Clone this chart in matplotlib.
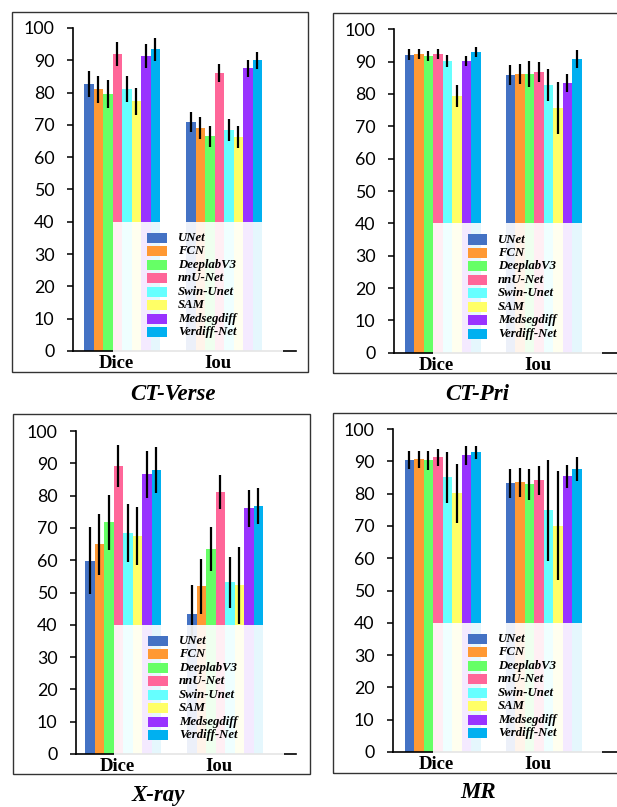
import matplotlib
matplotlib.use('Agg')
import matplotlib.pyplot as plt
from matplotlib.patches import Rectangle
import numpy as np

# ---------------- data ----------------
models = ['UNet', 'FCN', 'DeeplabV3', 'nnU-Net', 'Swin-Unet', 'SAM', 'Medsegdiff', 'Verdiff-Net']
colors = ['#4472C4', '#FF9933', '#66FF66', '#FF6699', '#66FFFF', '#FFFF66', '#9933FF', '#00B0F0']
metrics = ['Dice', 'Iou']
yticks = list(range(0, 101, 10))

ct_verse_dice = [82.6, 81.0, 79.5, 91.9, 81.0, 77.3, 91.2, 93.4]
ct_verse_dice_err = [4.0, 4.1, 4.4, 3.8, 4.0, 4.1, 3.7, 3.6]
ct_verse_iou = [70.8, 69.1, 66.5, 86.0, 68.4, 66.2, 87.5, 90.0]
ct_verse_iou_err = [3.1, 3.5, 3.3, 2.8, 3.4, 3.4, 2.7, 2.7]

ct_pri_dice = [92.1, 92.4, 91.8, 92.4, 90.2, 79.4, 90.2, 93.0]
ct_pri_dice_err = [1.7, 1.6, 1.6, 1.5, 2.0, 3.3, 1.5, 1.5]
ct_pri_iou = [85.9, 86.2, 86.2, 86.8, 82.8, 75.7, 83.4, 90.8]
ct_pri_iou_err = [3.1, 3.0, 4.1, 3.0, 5.0, 8.0, 2.8, 2.7]

xray_dice = [59.9, 64.9, 71.7, 89.1, 68.3, 67.5, 86.6, 87.9]
xray_dice_err = [10.3, 9.4, 8.5, 6.5, 9.0, 9.0, 7.2, 7.0]
xray_iou = [43.3, 51.9, 63.4, 81.1, 53.1, 52.2, 76.1, 76.7]
xray_iou_err = [9.1, 8.5, 6.8, 5.2, 7.8, 12.0, 5.7, 5.6]

mr_dice = [90.3, 90.6, 90.3, 91.2, 85.0, 80.1, 91.8, 92.8]
mr_dice_err = [2.8, 2.7, 2.9, 2.6, 7.8, 9.2, 2.8, 2.0]
mr_iou = [83.2, 83.5, 82.9, 84.1, 74.8, 70.1, 85.3, 87.5]
mr_iou_err = [4.5, 4.5, 4.8, 4.4, 15.7, 17.0, 3.7, 3.7]

titles = ['CT-Verse', 'CT-Pri', 'X-ray', 'MR']
panel_values = [
    (ct_verse_dice, ct_verse_dice_err, ct_verse_iou, ct_verse_iou_err),
    (ct_pri_dice, ct_pri_dice_err, ct_pri_iou, ct_pri_iou_err),
    (xray_dice, xray_dice_err, xray_iou, xray_iou_err),
    (mr_dice, mr_dice_err, mr_iou, mr_iou_err),
]

# ---------------- layout (pixels) ----------------
W, H = 617, 807
# axes: left, right, bottom(y of value 0), top(y of value 100), group centers
axes_px = [
    (73, 296, 351, 28, 122, 224),
    (394, 617, 352.7, 29.3, 442.5, 543.5),
    (76, 296, 754, 431, 123, 225),
    (393, 617, 752, 429, 442.5, 543.5),
]
frames_px = [
    (12, 12, 308, 372),
    (333, 13, 640, 373),
    (13, 414, 310, 774),
    (333, 413, 640, 773),
]
title_px = [(173, 395), (477, 395), (158, 796), (478, 792)]

serif = 'Liberation Serif'
sans = 'Lato'

fig = plt.figure(figsize=(W / 100, H / 100), dpi=100)
fig.patch.set_facecolor('white')

bw_px = 9.5

for k in range(4):
    l, r, b, t, c0, c1 = axes_px[k]
    s = c1 - c0
    bw = bw_px / s
    ax = fig.add_axes([l / W, 1 - b / H, (r - l) / W, (b - t) / H])
    ax.set_xlim((l - c0) / s, (r - c0) / s)
    ax.set_ylim(0, 100)
    dice, dice_e, iou, iou_e = panel_values[k]
    for g, (vals, errs) in enumerate([(dice, dice_e), (iou, iou_e)]):
        x = g + (np.arange(len(models)) - 3.5) * bw
        ax.bar(x, vals, width=bw, color=colors, linewidth=0, zorder=2)
        ax.errorbar(x, vals, yerr=errs, fmt='none', ecolor='black',
                    elinewidth=1.6, capsize=0, zorder=2.2)
    # legend background (translucent white box)
    box_r = 1.575
    ax.add_patch(Rectangle((-bw, -1.3), box_r + bw, 41.3, facecolor='white',
                           alpha=0.9, edgecolor='none', zorder=3, clip_on=False))
    # legend entries
    for i, (m, c) in enumerate(zip(models, colors)):
        yc = 35.0 - i * 4.16
        ax.add_patch(Rectangle((0.248, yc - 1.55), 0.196, 3.1, facecolor=c,
                               edgecolor='none', zorder=4))
        ax.text(0.55, yc, m, fontsize=9.2, fontweight='bold', fontstyle='italic',
                family=serif, va='center', ha='left', zorder=5)

    for sp in ['top', 'right']:
        ax.spines[sp].set_visible(False)
    for sp in ['left', 'bottom']:
        ax.spines[sp].set_color('black')
        ax.spines[sp].set_linewidth(1.2)
    ax.set_yticks(yticks)
    ax.set_yticklabels([str(v) for v in yticks], family=sans, fontsize=12.8)
    ax.tick_params(axis='y', length=4.3, width=1.1, pad=9.0, colors='black')
    ax.set_xticks([0 - 0.06, 1 - 0.06])
    ax.set_xticklabels(metrics, family=serif, fontweight='bold', fontsize=13.5)
    ax.tick_params(axis='x', length=0, pad=3)
    ax.set_facecolor('none')

    x0, y0, x1, y1 = frames_px[k]
    fig.add_artist(Rectangle((x0 / W, 1 - y1 / H), (x1 - x0) / W, (y1 - y0) / H,
                             transform=fig.transFigure, fill=False,
                             edgecolor='#333333', linewidth=1.0))
    tx, ty = title_px[k]
    fig.text(tx / W, 1 - ty / H, titles[k], family=serif, fontweight='bold',
             fontstyle='italic', fontsize=16.5, ha='center', va='center')

fig.savefig('out.png', dpi=100, facecolor='white')
